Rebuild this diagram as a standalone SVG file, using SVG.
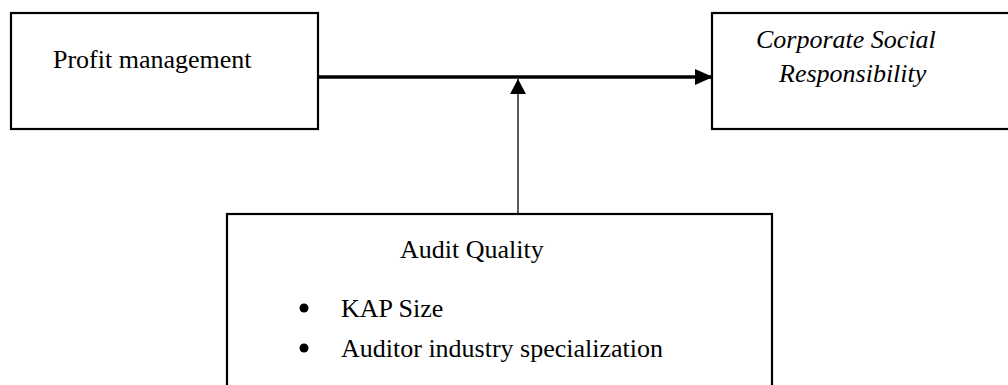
<svg xmlns="http://www.w3.org/2000/svg" width="1008" height="385" viewBox="0 0 1008 385">
<style>
.box{fill:#fff;stroke:#000;stroke-width:2.2}
.t{font-family:"Liberation Serif","Times New Roman",serif;font-size:26px;fill:#000}
.i{font-style:italic}
</style>
<defs>
<marker id="ah" markerUnits="userSpaceOnUse" markerWidth="18" markerHeight="16" refX="18" refY="8" orient="auto">
<path d="M0,0 L18,8 L0,16 Z" fill="#000"/>
</marker>
<marker id="ah2" markerUnits="userSpaceOnUse" markerWidth="15" markerHeight="16" refX="15" refY="8" orient="auto">
<path d="M0,0 L15,8 L0,16 Z" fill="#000"/>
</marker>
</defs>
<rect width="1008" height="385" fill="#fff"/>
<g id="connectors">
<line x1="318" y1="77" x2="713" y2="77" stroke="#000" stroke-width="3.5" marker-end="url(#ah)"/>
<line x1="518" y1="213" x2="518" y2="79" stroke="#000" stroke-width="1.3" marker-end="url(#ah2)"/>
</g>
<g id="profit">
<rect class="box" x="11" y="13" width="307" height="116"/>
<text class="t" x="53" y="68">Profit management</text>
</g>
<g id="csr">
<rect class="box" x="712" y="13" width="310" height="116"/>
<text class="t i" x="756" y="48">Corporate Social</text>
<text class="t i" x="779" y="82">Responsibility</text>
</g>
<g id="audit">
<rect class="box" x="227" y="214" width="545" height="190"/>
<text class="t" x="400" y="258">Audit Quality</text>
<circle cx="304" cy="308" r="4.5" fill="#000"/>
<text class="t" x="341" y="317">KAP Size</text>
<circle cx="304" cy="348" r="4.5" fill="#000"/>
<text class="t" x="341" y="357">Auditor industry specialization</text>
</g>
</svg>
